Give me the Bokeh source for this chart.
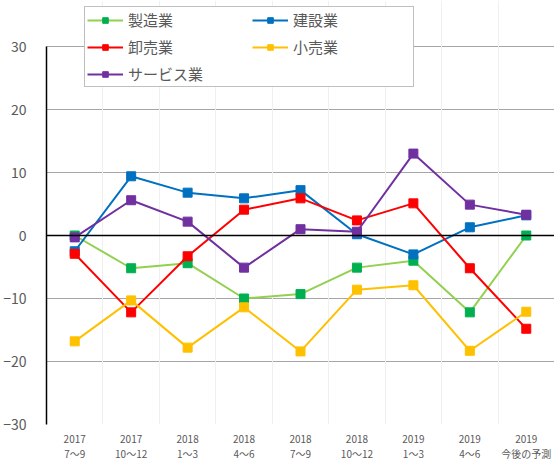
from bokeh.plotting import figure
from bokeh.models import (Range1d, FixedTicker, Legend, LegendItem, Span, Grid)
from bokeh.embed import file_html
from bokeh.resources import INLINE

categories = ["2017\n7～9", "2017\n10～12", "2018\n1～3", "2018\n4～6", "2018\n7～9",
              "2018\n10～12", "2019\n1～3", "2019\n4～6", "2019\n今後の予測"]
manufacturing = [0.0, -5.2, -4.4, -10.0, -9.3, -5.1, -4.0, -12.2, 0.0]
construction = [-2.5, 9.4, 6.8, 5.9, 7.2, 0.2, -3.0, 1.3, 3.2]
wholesale = [-2.9, -12.2, -3.3, 4.1, 5.9, 2.4, 5.1, -5.2, -14.8]
retail = [-16.8, -10.3, -17.8, -11.4, -18.4, -8.6, -7.9, -18.3, -12.1]
services = [-0.3, 5.6, 2.2, -5.1, 1.0, 0.6, 13.0, 4.9, 3.3]
y_ticks = [-30, -20, -10, 0, 10, 20, 30]

series = [
    ("製造業", manufacturing, "#92D050", "#00B050"),
    ("建設業", construction, "#0070C0", "#0070C0"),
    ("卸売業", wholesale, "#FF0000", "#FF0000"),
    ("小売業", retail, "#FFC000", "#FFC000"),
    ("サービス業", services, "#7030A0", "#7030A0"),
]
# legend is filled column by column: left column, then right column
legend_order = ["製造業", "卸売業", "サービス業", "建設業", "小売業"]

FONT = "Noto Sans CJK JP"
n = len(categories)
xs = [i + 0.5 for i in range(n)]

p = figure(frame_width=508, frame_height=424, output_backend="svg", toolbar_location=None,
           x_range=Range1d(0, n), y_range=Range1d(-30, 30 + 46 / 6.3),
           min_border_left=39, min_border_right=0, min_border_top=0, min_border_bottom=0)
p.outline_line_color = None
p.background_fill_color = "white"
p.border_fill_color = "white"

# grids
p.xgrid.visible = False
p.ygrid.ticker = FixedTicker(ticks=y_ticks)
p.ygrid.grid_line_color = "#A6A6A6"
p.ygrid.grid_line_width = 1
vgrid = Grid(dimension=0, ticker=FixedTicker(ticks=list(range(1, n))),
             grid_line_color="#F0F0F0", grid_line_width=1)
p.add_layout(vgrid)

# y axis
p.yaxis.ticker = FixedTicker(ticks=y_ticks)
p.yaxis.bounds = (-30, 30)
p.yaxis.axis_line_color = "black"
p.yaxis.axis_line_width = 1.5
p.yaxis.major_tick_line_color = None
p.yaxis.minor_tick_line_color = None
p.yaxis.major_label_text_font = FONT
p.yaxis.major_label_text_font_size = "14px"
p.yaxis.major_label_text_color = "#595959"
p.yaxis.major_label_standoff = 14

# x axis
p.xaxis.ticker = FixedTicker(ticks=xs)
p.xaxis.major_label_overrides = {x: c for x, c in zip(xs, categories)}
p.xaxis.axis_line_color = None
p.xaxis.major_tick_line_color = None
p.xaxis.minor_tick_line_color = None
p.xaxis.major_tick_out = 0
p.xaxis.major_tick_in = 0
p.xaxis.major_label_text_font = FONT
p.xaxis.major_label_text_font_size = "10px"
p.xaxis.major_label_text_line_height = 1.05
p.xaxis.major_label_text_color = "#595959"
p.xaxis.major_label_standoff = 6

zero = Span(location=0, dimension="width", line_color="black", line_width=1.5)
p.add_layout(zero)

item_map = {}
for name, vals, lc, mc in series:
    r1 = p.line(xs, vals, line_color=lc, line_width=2)
    r2 = p.scatter(xs, vals, marker="square", size=9, fill_color=mc, line_color=mc)
    item_map[name] = LegendItem(label=name, renderers=[r1, r2])
items = [item_map[k] for k in legend_order]

legend = Legend(items=items, nrows=3, location=(38, 337),
                label_text_font=FONT, label_text_font_size="15px",
                label_text_color="#595959", glyph_width=36, glyph_height=14,
                label_height=14, label_width=118, label_standoff=5,
                spacing=6, padding=2, margin=0,
                border_line_color="#808080", border_line_width=1,
                background_fill_color="white", background_fill_alpha=1)
p.add_layout(legend, "center")

open("out.html", "w").write(file_html(p, INLINE))
